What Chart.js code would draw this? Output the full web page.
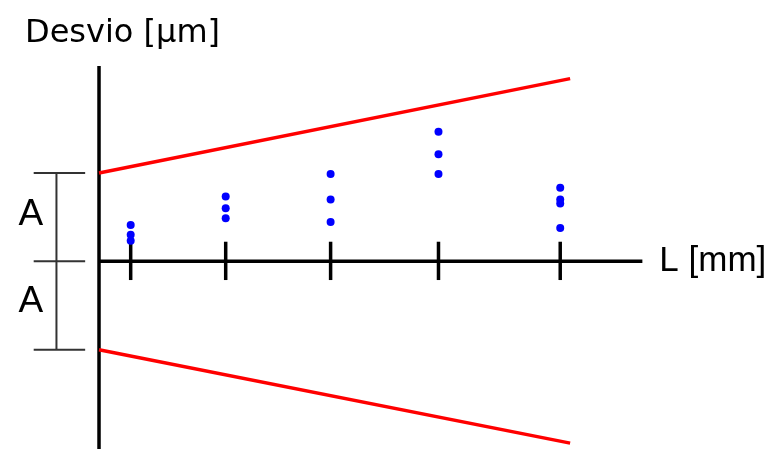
<!DOCTYPE html>
<html>
<head>
<meta charset="utf-8">
<script src="https://cdn.jsdelivr.net/npm/chart.js@4/dist/chart.umd.min.js"></script>
<style>
  html, body { margin: 0; padding: 0; background: #fff; }
  #grafico { display: block; }
</style>
</head>
<body>
<canvas id="grafico" width="778" height="453"></canvas>
<script>
// longitudes medidas L [mm]
var longitudes = [3.2, 12.8, 23.4, 34.3, 46.6];
// desvios medidos en cada longitud [µm]
var desvios = [
  [3.7, 2.7, 2.1],
  [6.6, 5.4, 4.4],
  [8.9, 6.3, 4.0],
  [13.2, 10.9, 8.9],
  [7.5, 6.3, 5.9, 3.4]
];
// limites de tolerancia (inicio y fin)
var limite_x = [0, 47.6];
var limite_sup = [9.0, 18.6];
var limite_inf = [-9.0, -18.5];
var A = 9;
var fin_eje_L = 54.9;
var tope_eje_desvio = 19.9;

var puntos = [];
for (let i = 0; i < longitudes.length; i++) {
  for (let d of desvios[i]) {
    puntos.push({x: longitudes[i], y: d});
  }
}

function recta(xs, ys) {
  return xs.map(function (x, i) { return {x: x, y: ys[i]}; });
}

// ejes, marcas, cota A y textos
var dibujo_ejes = {
  id: 'dibujo_ejes',
  beforeDatasetsDraw: function (chart) {
    var ctx = chart.ctx;
    var sx = chart.scales.x;
    var sy = chart.scales.y;
    var px = function (v) { return sx.getPixelForValue(v); };
    var py = function (v) { return sy.getPixelForValue(v); };

    ctx.save();
    ctx.lineCap = 'butt';
    ctx.strokeStyle = '#000';
    ctx.lineWidth = 3.5;
    // eje vertical
    ctx.beginPath();
    ctx.moveTo(px(0), py(tope_eje_desvio));
    ctx.lineTo(px(0), py(sy.min));
    ctx.stroke();
    // eje horizontal
    ctx.beginPath();
    ctx.moveTo(px(0), py(0));
    ctx.lineTo(px(fin_eje_L), py(0));
    ctx.stroke();
    // marcas en cada longitud
    for (let l of longitudes) {
      ctx.beginPath();
      ctx.moveTo(px(l), py(2.0));
      ctx.lineTo(px(l), py(-1.9));
      ctx.stroke();
    }

    // cota A
    ctx.strokeStyle = '#333';
    ctx.lineWidth = 2;
    ctx.beginPath();
    ctx.moveTo(px(-4.3), py(A));
    ctx.lineTo(px(-4.3), py(-A));
    for (let v of [A, 0, -A]) {
      ctx.moveTo(px(-6.6), py(v));
      ctx.lineTo(px(-1.4), py(v));
    }
    ctx.stroke();

    ctx.fillStyle = '#000';
    ctx.textBaseline = 'alphabetic';
    ctx.textAlign = 'center';
    ctx.font = '37px "Liberation Sans", Arial, sans-serif';
    ctx.fillText('A', px(-6.9), py(A) + 52);
    ctx.fillText('A', px(-6.9), py(0) + 51);

    ctx.textAlign = 'left';
    ctx.font = '32px "DejaVu Sans", sans-serif';
    ctx.fillText('Desvio [µm]', 25, 42);
    ctx.font = '35px "Liberation Sans", Arial, sans-serif';
    ctx.fillText('L [mm]', px(fin_eje_L) + 17, py(0) + 10);
    ctx.restore();
  }
};

var myChart = new Chart(document.getElementById('grafico'), {
  type: 'scatter',
  data: {
    datasets: [
      {
        label: 'limite superior',
        data: recta(limite_x, limite_sup),
        showLine: true,
        borderColor: '#ff0000',
        borderWidth: 3.5,
        pointRadius: 0
      },
      {
        label: 'limite inferior',
        data: recta(limite_x, limite_inf),
        showLine: true,
        borderColor: '#ff0000',
        borderWidth: 3.5,
        pointRadius: 0
      },
      {
        label: 'desvios',
        data: puntos,
        backgroundColor: '#0000ff',
        borderColor: '#0000ff',
        borderWidth: 0,
        pointRadius: 4
      }
    ]
  },
  options: {
    responsive: false,
    animation: false,
    devicePixelRatio: 1,
    layout: { padding: 0 },
    plugins: {
      legend: { display: false },
      tooltip: { enabled: false }
    },
    scales: {
      x: { type: 'linear', display: false, min: -9.6, max: 68.2 },
      y: { type: 'linear', display: false, min: -19.1, max: 26.2 }
    }
  },
  plugins: [dibujo_ejes]
});
</script>
</body>
</html>
